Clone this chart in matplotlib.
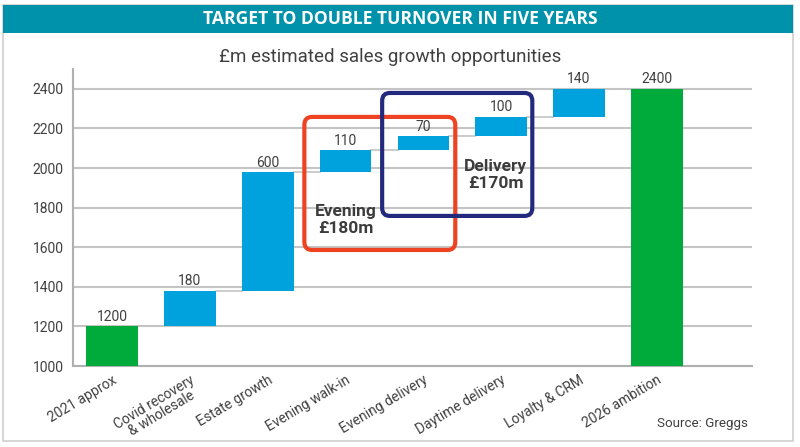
import matplotlib
matplotlib.use("Agg")
import matplotlib.pyplot as plt
from matplotlib.patches import Rectangle, FancyBboxPatch
import numpy as np

categories = ["2021 approx", "Covid recovery\n& wholesale", "Estate growth", "Evening walk-in",
              "Evening delivery", "Daytime delivery", "Loyalty & CRM", "2026 ambition"]
values = [1200, 180, 600, 110, 70, 100, 140, 2400]
is_total = [True, False, False, False, False, False, False, True]
yticks = [1000, 1200, 1400, 1600, 1800, 2000, 2200, 2400]

GREEN = "#00AB3B"
BLUE = "#00A2DE"
TEXT = "#404040"
GRID = "#C4C4C4"

plt.rcParams['font.family'] = ['Roboto', 'DejaVu Sans']

fig = plt.figure(figsize=(8, 4.47), dpi=100)
W, H = 800, 447

# outer frame
fig.patches.append(Rectangle((3 / W, 1 - 441 / H), 790 / W, 436 / H, transform=fig.transFigure,
                             facecolor="none", edgecolor="#D0D0D0", lw=1.2, zorder=-2))
# header
fig.patches.append(Rectangle((3 / W, 1 - 33 / H), 790 / W, 28 / H, transform=fig.transFigure,
                             facecolor="#0092AA", edgecolor="none", zorder=-1))
fig.text(400 / W, 1 - 19.5 / H, "TARGET TO DOUBLE TURNOVER IN FIVE YEARS", color="white",
         fontsize=12.6, fontweight="bold", family=["Open Sans", "DejaVu Sans"], ha="center", va="center")
fig.text(390 / W, 1 - 57 / H, "£m estimated sales growth opportunities", color=TEXT,
         fontsize=13.5, ha="center", va="center")

ax = fig.add_axes([73.3 / W, 1 - 366 / H, (751.7 - 73.3) / W, (366 - 69) / H])
ax.set_zorder(2)
ax.patch.set_visible(False)
ax.set_xlim(-0.5, 8.22)
ax.set_ylim(1000, 2500)

x = np.arange(len(categories))
bottoms = []
running = 0
for v, t in zip(values, is_total):
    if t:
        bottoms.append(1000)
        running = v
    else:
        bottoms.append(running)
        running += v
heights = [v - 1000 if t else v for v, t in zip(values, is_total)]
colors = [GREEN if t else BLUE for t in is_total]

ax.bar(x, heights, bottom=bottoms, width=0.665, color=colors, zorder=3)

# connectors
for i in range(len(values) - 1):
    top = bottoms[i] + heights[i]
    ax.plot([x[i] + 0.3325, x[i + 1] - 0.3325], [top, top], color=GRID, lw=1.2, zorder=2)

for xi, b, h, v in zip(x, bottoms, heights, values):
    ax.text(xi, b + h + 12, f"{v}", ha="center", va="bottom", fontsize=10, color=TEXT, zorder=4)

ax.set_yticks(yticks)
ax.set_yticklabels([str(t) for t in yticks], fontsize=10, color=TEXT)
ax.yaxis.grid(True, color=GRID, lw=1.5, zorder=0)
ax.set_axisbelow(True)
ax.tick_params(axis="y", length=0, pad=7)
ax.tick_params(axis="x", length=0, pad=5)
ax.set_xticks(x)
ax.set_xticklabels(categories, rotation=31, ha="right", rotation_mode="anchor",
                   fontsize=10, color=TEXT, linespacing=0.95, multialignment="center")
for s in ["top", "right"]:
    ax.spines[s].set_visible(False)
for s in ["left", "bottom"]:
    ax.spines[s].set_color("#B0B0B0")
    ax.spines[s].set_linewidth(1.5)

# annotation boxes
red = FancyBboxPatch((2.47, 1586), 4.41 - 2.47, 2258 - 1586,
                     boxstyle="round,pad=0,rounding_size=0.1", mutation_aspect=400,
                     facecolor="none", edgecolor="#EE4322", lw=3, zorder=5)
blue = FancyBboxPatch((3.47, 1758), 5.40 - 3.47, 2379 - 1758,
                      boxstyle="round,pad=0,rounding_size=0.1", mutation_aspect=400,
                      facecolor="none", edgecolor="#232A7E", lw=3, zorder=5)
ax.add_patch(red)
ax.add_patch(blue)
ax.text(3.0, 1737, "Evening\n£180m", ha="center", va="center", fontsize=12.5,
        fontweight="bold", color="#3C3C3C", linespacing=1.15, zorder=6)
ax.text(4.93, 1965, "Delivery\n£170m", ha="center", va="center", fontsize=12.5,
        fontweight="bold", color="#3C3C3C", linespacing=1.15, zorder=6)

fig.text(748 / W, 1 - 424 / H, "Source: Greggs", ha="right", va="center", fontsize=9.6, color=TEXT)

fig.savefig("out.png", dpi=100, facecolor="white")
